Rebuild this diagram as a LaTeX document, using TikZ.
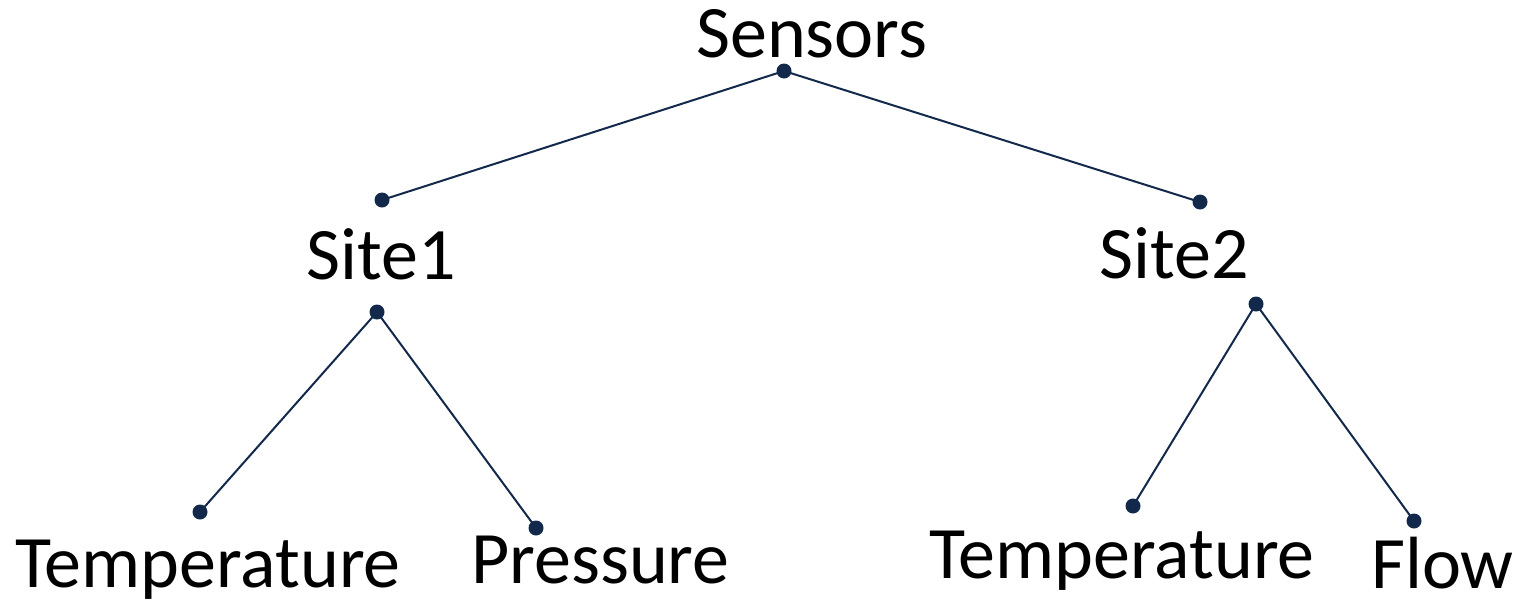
\documentclass[tikz,border=0pt]{standalone}
\usepackage{fontspec}
\setmainfont{Carlito}
\definecolor{navy}{HTML}{13294B}
\begin{document}
\begin{tikzpicture}[x=1pt,y=-1pt,
  lbl/.style={inner sep=0pt,anchor=base west,font=\fontsize{74}{82}\selectfont,text=black},
  dot/.style={circle,fill=navy,inner sep=0pt,minimum size=15pt},
  edge/.style={draw=navy,line width=2pt}]
\useasboundingbox (0,0) rectangle (1523,603);
% labels
\node[lbl] (tSensors) at (696,57) {Sensors};
\node[lbl] (tSite1) at (306,279) {Site1};
\node[lbl] (tSite2) at (1099,278) {Site2};
\node[lbl] (tTemp1) at (15,587) {Temperature};
\node[lbl] (tPress) at (471,583) {Pressure};
\node[lbl] (tTemp2) at (929,578) {Temperature};
\node[lbl] (tFlow) at (1371,588) {Flow};
% dots
\node[dot] (dS) at (784,71) {};
\node[dot] (d1a) at (382,200) {};
\node[dot] (d1b) at (377,312) {};
\node[dot] (d2a) at (1200,202) {};
\node[dot] (d2b) at (1256,304) {};
\node[dot] (dT1) at (200,512) {};
\node[dot] (dP) at (536,528) {};
\node[dot] (dT2) at (1133,506) {};
\node[dot] (dF) at (1414,521) {};
% edges
\draw[edge] (dS.center) -- (d1a.center);
\draw[edge] (dS.center) -- (d2a.center);
\draw[edge] (d1b.center) -- (dT1.center);
\draw[edge] (d1b.center) -- (dP.center);
\draw[edge] (d2b.center) -- (dT2.center);
\draw[edge] (d2b.center) -- (dF.center);
\end{tikzpicture}
\end{document}
